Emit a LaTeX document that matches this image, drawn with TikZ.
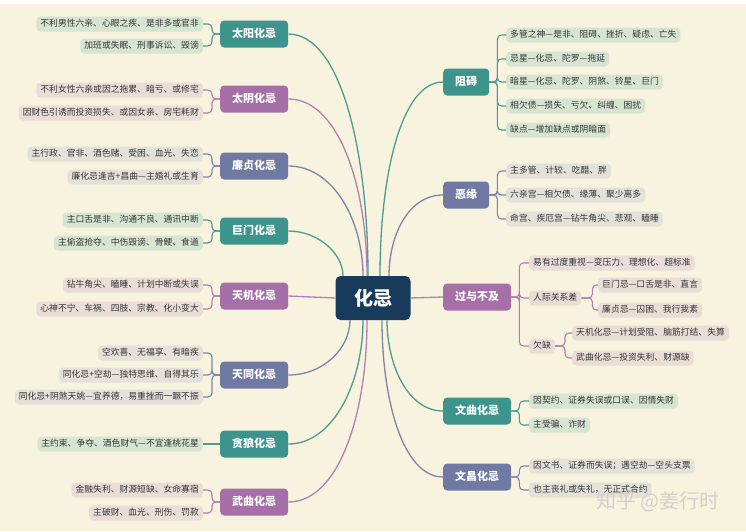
\documentclass[tikz,border=0pt]{standalone}
\usepackage{fontspec}
\setmainfont{Noto Sans CJK SC}
\usetikzlibrary{calc}
\definecolor{bg}{HTML}{F7F3DE}
\definecolor{tealN}{HTML}{3D948D}
\definecolor{purpN}{HTML}{A76FA7}
\definecolor{slateN}{HTML}{6F79A1}
\definecolor{centN}{HTML}{183B5C}
\definecolor{tealL}{HTML}{4F9B91}
\definecolor{purpL}{HTML}{B37EB1}
\definecolor{slateL}{HTML}{7E85A7}
\definecolor{tealF}{HTML}{D6E4D2}
\definecolor{purpF}{HTML}{E9DDD7}
\definecolor{slateF}{HTML}{E3E1DA}
\definecolor{txt}{HTML}{363636}
\definecolor{wmark}{HTML}{D2D0CA}
\begin{document}
\begin{tikzpicture}[x=1pt,y=-1pt,
  leaf/.style={rounded corners=4, inner xsep=4, inner ysep=0, minimum height=15,
    text height=7.6, text depth=1.8, font=\fontsize{8.8}{10}\selectfont, text=txt},
  tleaf/.style={leaf, fill=tealF},
  pleaf/.style={leaf, fill=purpF},
  sleaf/.style={leaf, fill=slateF},
  mainnode/.style={rounded corners=4, minimum height=27, inner xsep=12, inner ysep=0,
    text height=8.5, text depth=2, font=\bfseries\fontsize{11}{13}\selectfont, text=white},
  tnode/.style={mainnode, fill=tealN},
  pnode/.style={mainnode, fill=purpN},
  snode/.style={mainnode, fill=slateN},
  conn/.style={line width=1.3pt},
  tconn/.style={conn, draw=tealL},
  pconn/.style={conn, draw=purpL},
  sconn/.style={conn, draw=slateL},
  tbr/.style={line width=1.1pt, draw=tealL, rounded corners=4},
  pbr/.style={line width=1.1pt, draw=purpL, rounded corners=4},
  sbr/.style={line width=1.1pt, draw=slateL, rounded corners=4}
]
\useasboundingbox (0,0) rectangle (746,531);
\fill[bg] (0,0) rectangle (746,531);
\fill[white] (0,0) rectangle (746,4);

% center
\node[rounded corners=5, fill=centN, minimum width=75, minimum height=44, text=white,
  font=\bfseries\fontsize{19}{21}\selectfont] (c) at (373,298) {化忌};

% ---------- left main nodes ----------
\node[tnode, anchor=west] (sy) at (220,34) {太阳化忌};
\node[pnode, anchor=west] (ty) at (220,99) {太阴化忌};
\node[snode, anchor=west] (lz) at (220,166) {廉贞化忌};
\node[tnode, anchor=west] (jm) at (220,231) {巨门化忌};
\node[pnode, anchor=west] (tj) at (220,296) {天机化忌};
\node[snode, anchor=west] (tt) at (220,375) {天同化忌};
\node[tnode, anchor=west] (tl) at (220,444) {贪狼化忌};
\node[pnode, anchor=west] (wq) at (220,502) {武曲化忌};

% ---------- right main nodes ----------
\node[tnode, anchor=west] (za) at (443,82) {阻碍};
\node[snode, anchor=west] (ey) at (443,195) {恶缘};
\node[pnode, anchor=west] (gy) at (443,297) {过与不及};
\node[tnode, anchor=west] (wqu) at (443,411) {文曲化忌};
\node[snode, anchor=west] (wch) at (443,477) {文昌化忌};

% ---------- left leaves ----------
\node[tleaf, anchor=east] (sy1) at (203,24) {不利男性六亲、心眼之疾、是非多或官非};
\node[tleaf, anchor=east] (sy2) at (203,46) {加班或失眠、刑事诉讼、毁谤};
\node[pleaf, anchor=east] (ty1) at (203,90) {不利女性六亲或因之拖累、暗亏、或修宅};
\node[pleaf, anchor=east] (ty2) at (203,113) {因财色引诱而投资损失、或因女亲、房宅耗财};
\node[sleaf, anchor=east] (lz1) at (203,154) {主行政、官非、酒色赌、受困、血光、失恋};
\node[sleaf, anchor=east] (lz2) at (203,177) {廉化忌逢吉+昌曲—主婚礼或生育};
\node[tleaf, anchor=east] (jm1) at (203,220) {主口舌是非、沟通不良、通讯中断};
\node[tleaf, anchor=east] (jm2) at (203,243) {主偷盗抢夺、中伤毁谤、骨鲠、食道};
\node[pleaf, anchor=east] (tj1) at (203,285) {钻牛角尖、瞌睡、计划中断或失误};
\node[pleaf, anchor=east] (tj2) at (203,309) {心神不宁、车祸、四肢、宗教、化小变大};
\node[sleaf, anchor=east] (tt1) at (203,353) {空欢喜、无福享、有暗疾};
\node[sleaf, anchor=east] (tt2) at (203,375) {同化忌+空劫—独特思维、自得其乐};
\node[sleaf, anchor=east] (tt3) at (203,397) {同化忌+阴煞天姚—宜养德，易重挫而一蹶不振};
\node[tleaf, anchor=east] (tl1) at (203,444) {主约束、争夺、酒色财气—不宜逢桃花星};
\node[pleaf, anchor=east] (wq1) at (203,490) {金融失利、财源短缺、女命寡宿};
\node[pleaf, anchor=east] (wq2) at (203,513) {主破财、血光、刑伤、罚款};

% ---------- right leaves ----------
\node[tleaf, anchor=west] (za1) at (506,35) {多管之神—是非、阻碍、挫折、疑虑、亡失};
\node[tleaf, anchor=west] (za2) at (506,59) {忌星—化忌、陀罗—拖延};
\node[tleaf, anchor=west] (za3) at (506,82) {暗星—化忌、陀罗、阴煞、铃星、巨门};
\node[tleaf, anchor=west] (za4) at (506,106) {相欠债—损失、亏欠、纠缠、困扰};
\node[tleaf, anchor=west] (za5) at (506,130) {缺点—增加缺点或阴暗面};
\node[sleaf, anchor=west] (ey1) at (506,171) {主多管、计较、吃醋、胖};
\node[sleaf, anchor=west] (ey2) at (506,195) {六亲宫—相欠债、缘薄、聚少离多};
\node[sleaf, anchor=west] (ey3) at (506,219) {命宫、疾厄宫—钻牛角尖、悲观、瞌睡};
\node[pleaf, anchor=west] (gy1) at (529,263) {易有过度重视—变压力、理想化、超标准};
\node[pleaf, anchor=west] (rj) at (529,298) {人际关系差};
\node[pleaf, anchor=west] (qq) at (529,346) {欠缺};
\node[pleaf, anchor=west] (rj1) at (598,285) {巨门忌—口舌是非、直言};
\node[pleaf, anchor=west] (rj2) at (598,310) {廉贞忌—囚困、我行我素};
\node[pleaf, anchor=west] (qq1) at (572,333) {天机化忌—计划受阻、脑筋打结、失算};
\node[pleaf, anchor=west] (qq2) at (572,358) {武曲化忌—投资失利、财源缺};
\node[tleaf, anchor=west] (wc1) at (529,401) {因契约、证券失误或口误、因情失财};
\node[tleaf, anchor=west] (wc2) at (529,425) {主受骗、诈财};
\node[sleaf, anchor=west] (wh1) at (529,466) {因文书、证券而失误；遇空劫—空头支票};
\node[sleaf, anchor=west] (wh2) at (529,490) {也主丧礼或失礼，无正式合约};

% ---------- connectors center -> main ----------
\draw[tconn] (sy.east) .. controls +(52,0) and +(0,-126) .. ($(c.north)+(-5,0)$);
\draw[pconn] (ty.east) .. controls +(50,0) and +(0,-90) .. ($(c.north)+(-6,0)$);
\draw[sconn] (lz.east) .. controls +(45,0) and +(0,-55) .. ($(c.north)+(-10,0)$);
\draw[tconn] (jm.east) .. controls +(30,0) and +(0,-22) .. ($(c.north)+(-30,0)$);
\draw[pconn] (tj.east) -- (c.west);
\draw[sconn] (tt.east) .. controls +(35,0) and +(0,28) .. ($(c.south)+(-23,0)$);
\draw[tconn] (tl.east) .. controls +(45,0) and +(0,62) .. ($(c.south)+(-10,0)$);
\draw[pconn] (wq.east) .. controls +(50,0) and +(0,95) .. ($(c.south)+(-6,0)$);
\draw[tconn] (za.west) .. controls +(-42,0) and +(0,-100) .. ($(c.north)+(7,0)$);
\draw[sconn] (ey.west) .. controls +(-35,0) and +(0,-40) .. ($(c.north)+(16,0)$);
\draw[pconn] (gy.west) -- (c.east);
\draw[tconn] (wqu.west) .. controls +(-35,0) and +(0,45) .. ($(c.south)+(14,0)$);
\draw[sconn] (wch.west) .. controls +(-40,0) and +(0,80) .. ($(c.south)+(9,0)$);

% ---------- brackets left ----------
\foreach \l in {sy1,sy2} \draw[tbr] (sy.west) -- ++(-8,0) |- (\l.east);
\foreach \l in {ty1,ty2} \draw[pbr] (ty.west) -- ++(-8,0) |- (\l.east);
\foreach \l in {lz1,lz2} \draw[sbr] (lz.west) -- ++(-8,0) |- (\l.east);
\foreach \l in {jm1,jm2} \draw[tbr] (jm.west) -- ++(-8,0) |- (\l.east);
\foreach \l in {tj1,tj2} \draw[pbr] (tj.west) -- ++(-8,0) |- (\l.east);
\foreach \l in {tt1,tt2,tt3} \draw[sbr] (tt.west) -- ++(-8,0) |- (\l.east);
\draw[tbr] (tl.west) -- (tl1.east);
\foreach \l in {wq1,wq2} \draw[pbr] (wq.west) -- ++(-8,0) |- (\l.east);

% ---------- brackets right ----------
\foreach \l in {za1,za2,za3,za4,za5} \draw[tbr] (za.east) -- ++(8,0) |- (\l.west);
\foreach \l in {ey1,ey2,ey3} \draw[sbr] (ey.east) -- ++(8,0) |- (\l.west);
\foreach \l in {gy1,rj,qq} \draw[pbr] (gy.east) -- ++(8,0) |- (\l.west);
\foreach \l in {rj1,rj2} \draw[pbr] (rj.east) -- ++(11,0) |- (\l.west);
\foreach \l in {qq1,qq2} \draw[pbr] (qq.east) -- ++(10,0) |- (\l.west);
\foreach \l in {wc1,wc2} \draw[tbr] (wqu.east) -- ++(8,0) |- (\l.west);
\foreach \l in {wh1,wh2} \draw[sbr] (wch.east) -- ++(8,0) |- (\l.west);

% watermark
\node[text=wmark, font=\fontsize{20}{22}\selectfont, inner sep=0] (wm) at (658,502) {知乎 @姜行时};
\end{tikzpicture}
\end{document}
